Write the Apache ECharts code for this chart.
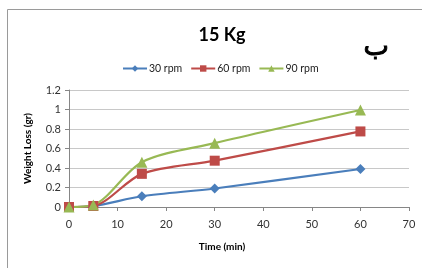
<!DOCTYPE html>
<html>
<head>
<meta charset="utf-8">
<script src="https://cdn.jsdelivr.net/npm/echarts@6/dist/echarts.min.js"></script>
<style>
  html, body { margin: 0; padding: 0; background: #fff; }
  #chart { width: 422px; height: 268px; }
</style>
</head>
<body>
<div id="chart"></div>
<script>
// time in minutes
const times = [0, 5, 15, 30, 60];
const rpm30 = [0, 0.01, 0.11, 0.19, 0.39];
const rpm60 = [0, 0.01, 0.34, 0.475, 0.775];
const rpm90 = [0, 0.02, 0.46, 0.655, 0.995];
const seriesNames = ["30 rpm", "60 rpm", "90 rpm"];

const font = "Lato, 'Open Sans', sans-serif";
const chart = echarts.init(document.getElementById("chart"));

function pairs (ys) {
  return times.map((t, i) => [t, ys[i]]);
}

function mkSeries (name, ys, color, symbol, size) {
  return {
    name: name,
    type: "line",
    smooth: 0.3,
    data: pairs(ys),
    symbol: symbol,
    symbolSize: size,
    lineStyle: { color: color, width: 2.2 },
    itemStyle: { color: color },
    emphasis: { disabled: true },
  };
}

const option = {
  animation: false,
  textStyle: { fontFamily: font },
  title: {
    text: "15 Kg",
    left: 217,
    top: 21,
    textAlign: "center",
    textStyle: { fontSize: 18, fontWeight: "bold", color: "#000", fontFamily: font },
  },
  graphic: [
    {
      type: "rect",
      shape: { x: 7.5, y: 9.5, width: 500, height: 400 },
      style: { fill: "none", stroke: "#9a9a9a", lineWidth: 1 },
    },
    {
      type: "text",
      left: 363,
      top: 34,
      style: { text: "ب", fontSize: 27, fontWeight: "normal", fill: "#000", stroke: "#000", lineWidth: 1, fontFamily: "'DejaVu Sans', sans-serif" },
    },
  ],
  legend: {
    data: seriesNames,
    top: 58,
    left: 117,
    itemWidth: 24,
    itemHeight: 8,
    itemGap: 8,
    textStyle: { fontSize: 10.5, color: "#222", fontFamily: font, padding: [0, 0, 0, -3] },
  },
  grid: { left: 69, right: 13, top: 90, bottom: 61 },
  xAxis: {
    type: "value",
    min: 0,
    max: 70,
    interval: 10,
    name: "Time (min)",
    nameLocation: "middle",
    nameGap: 35,
    nameTextStyle: { fontSize: 10, fontWeight: "bold", color: "#000", padding: [0, 34, 0, 0] },
    axisLine: { lineStyle: { color: "#868686" } },
    axisTick: { show: true, length: 4, lineStyle: { color: "#868686" } },
    axisLabel: { fontSize: 11, color: "#333", margin: 12 },
    splitLine: { show: false },
  },
  yAxis: {
    type: "value",
    min: 0,
    max: 1.2,
    interval: 0.2,
    name: "Weight Loss (gr)",
    nameLocation: "middle",
    nameGap: 36,
    nameTextStyle: { fontSize: 10, fontWeight: "bold", color: "#000" },
    axisLine: { show: true, lineStyle: { color: "#868686" } },
    axisTick: { show: true, length: 4, lineStyle: { color: "#868686" } },
    axisLabel: {
      fontSize: 11,
      color: "#333",
      margin: 8,
      formatter: v => String(Math.round(v * 10) / 10),
    },
    splitLine: { lineStyle: { color: "#c8c8c8" } },
  },
  series: [
    mkSeries(seriesNames[0], rpm30, "#4A7EBB", "diamond", 10),
    mkSeries(seriesNames[1], rpm60, "#BE4B48", "rect", 10),
    mkSeries(seriesNames[2], rpm90, "#98B954", "triangle", 11),
  ],
};

chart.setOption(option);
</script>
</body>
</html>
